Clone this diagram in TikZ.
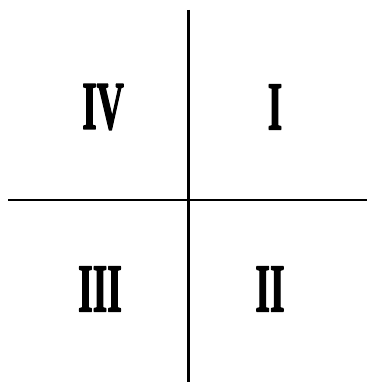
\documentclass[tikz,border=0pt]{standalone}
\usepackage{fontspec}
\usepackage{tikz}
\newfontfamily\quadfont[FakeBold=2.5]{Liberation Serif}

\begin{document}
\begin{tikzpicture}[x=1pt,y=-1pt,line join=round]
  \useasboundingbox (0,0) rectangle (370,382);
  \tikzset{quad/.style={font=\quadfont\fontsize{68}{68}\selectfont\bfseries,xscale=0.55,inner sep=0pt}}
  \coordinate (VT) at (188.5,10);
  \coordinate (VB) at (188.5,382);
  \coordinate (HL) at (8,200);
  \coordinate (HR) at (367,200);
  \draw[line width=2.2pt] (VT) -- (VB);
  \draw[line width=2pt] (HL) -- (HR);
  \node[quad] (q4) at (103,107) {IV};
  \node[quad] (q1) at (275,107) {I};
  \node[quad] (q3) at (100,289) {III};
  \node[quad] (q2) at (270,289) {II};
\end{tikzpicture}
\end{document}
